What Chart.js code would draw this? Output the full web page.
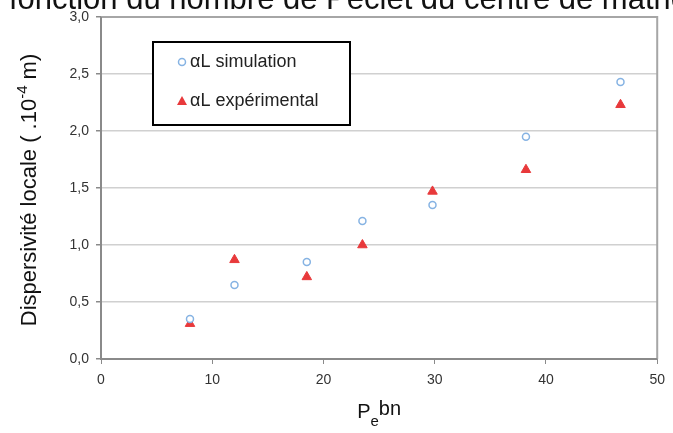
<!DOCTYPE html>
<html><head><meta charset="utf-8">
<script src="https://cdn.jsdelivr.net/npm/chart.js@4"></script>
<style>html,body{margin:0;padding:0;background:#fff;}#wrap{width:673px;height:433px;}</style>
</head><body><div id="wrap"><canvas id="c" width="673" height="433"></canvas></div>
<script>
const pecletX = [8, 12, 18.5, 23.5, 29.8, 38.2, 46.7];
const simulation = [0.35, 0.65, 0.85, 1.21, 1.35, 1.95, 2.43];
const experimental = [0.31, 0.87, 0.72, 1.00, 1.47, 1.66, 2.23];
const yTicks = [0, 0.5, 1, 1.5, 2, 2.5, 3];
const xTicks = [0, 10, 20, 30, 40, 50];
const seriesNames = ['\u03B1L simulation', '\u03B1L exp\u00E9rimental'];
const titleText = 'fonction du nombre de Peclet du centre de matrice';

const FONT = '"Liberation Sans", Arial, sans-serif';
const simColor = '#86b3e3';
const expColor = '#e8393b';

const overlay = {
  id: 'overlay',
  afterDraw(chart) {
    const ctx = chart.ctx, a = chart.chartArea;
    ctx.save();
    ctx.strokeStyle = '#a6a6a6'; ctx.lineWidth = 2;
    ctx.beginPath(); ctx.moveTo(a.left, a.top); ctx.lineTo(a.right, a.top); ctx.lineTo(a.right, a.bottom); ctx.stroke();
    ctx.strokeStyle = '#8a8a8a'; ctx.lineWidth = 2;
    ctx.beginPath(); ctx.moveTo(a.left, a.top); ctx.lineTo(a.left, a.bottom); ctx.lineTo(a.right, a.bottom); ctx.stroke();
    // title (partially cropped)
    ctx.fillStyle = '#111'; ctx.font = '31px ' + FONT; ctx.textBaseline = 'alphabetic'; ctx.textAlign = 'left';
    ctx.fillText(titleText, 9, 9);
    // y title
    ctx.save();
    ctx.translate(36, 190); ctx.rotate(-Math.PI/2);
    ctx.fillStyle = '#111';
    const p1 = 'Dispersivit\u00E9 locale ( .10', sup = '-4', p2 = ' m)';
    ctx.font = '22px ' + FONT; const w1 = ctx.measureText(p1).width, w3 = ctx.measureText(p2).width;
    ctx.font = '15px ' + FONT; const w2 = ctx.measureText(sup).width;
    let x0 = -(w1 + w2 + w3)/2;
    ctx.font = '22px ' + FONT; ctx.fillText(p1, x0, 0);
    ctx.font = '15px ' + FONT; ctx.fillText(sup, x0 + w1, -9);
    ctx.font = '22px ' + FONT; ctx.fillText(p2, x0 + w1 + w2, 0);
    ctx.restore();
    // x title Pebn
    ctx.font = '20px ' + FONT; ctx.fillStyle = '#111';
    const wP = ctx.measureText('P').width;
    ctx.font = '15px ' + FONT; const wE = ctx.measureText('e').width;
    ctx.font = '20px ' + FONT; const wB = ctx.measureText('bn').width;
    let xs = (a.left + a.right)/2 - (wP + wE + wB)/2;
    ctx.fillText('P', xs, 418);
    ctx.font = '15px ' + FONT; ctx.fillText('e', xs + wP, 426);
    ctx.font = '20px ' + FONT; ctx.fillText('bn', xs + wP + wE, 415);
    // legend
    const lx = 153, ly = 42, lw = 197, lh = 83;
    ctx.fillStyle = '#fff'; ctx.fillRect(lx, ly, lw, lh);
    ctx.strokeStyle = '#000'; ctx.lineWidth = 2; ctx.strokeRect(lx, ly, lw, lh);
    ctx.font = '18px ' + FONT; ctx.fillStyle = '#222'; ctx.textBaseline = 'middle';
    ctx.beginPath(); ctx.arc(182, 62, 3.5, 0, Math.PI*2); ctx.fillStyle = '#fff'; ctx.fill();
    ctx.strokeStyle = simColor; ctx.lineWidth = 1.5; ctx.stroke();
    ctx.fillStyle = '#222'; ctx.fillText(seriesNames[0], 190, 62);
    ctx.beginPath(); ctx.moveTo(182, 96); ctx.lineTo(187, 105); ctx.lineTo(177, 105); ctx.closePath();
    ctx.fillStyle = expColor; ctx.fill();
    ctx.fillStyle = '#222'; ctx.fillText(seriesNames[1], 190, 101);
    ctx.restore();
  }
};

const fmt = v => Number(v).toFixed(1).replace('.', ',');

new Chart(document.getElementById('c'), {
  type: 'scatter',
  data: {
    datasets: [
      { label: seriesNames[0], data: pecletX.map((x, i) => ({x, y: simulation[i]})),
        pointStyle: 'circle', pointRadius: 3.5, pointBorderWidth: 1.5,
        borderColor: simColor, backgroundColor: '#fff', pointBorderColor: simColor, pointBackgroundColor: '#fff' },
      { label: seriesNames[1], data: pecletX.map((x, i) => ({x, y: experimental[i]})),
        pointStyle: 'triangle', pointRadius: 5.5, pointBorderWidth: 1,
        borderColor: expColor, backgroundColor: expColor, pointBorderColor: expColor, pointBackgroundColor: expColor }
    ]
  },
  options: {
    responsive: false, animation: false, devicePixelRatio: 1,
    layout: { padding: { left: 0, top: 17, right: 14, bottom: 0 } },
    plugins: { legend: { display: false }, tooltip: { enabled: false }, title: { display: false } },
    scales: {
      x: {
        type: 'linear', min: 0, max: 50,
        afterBuildTicks: s => { s.ticks = xTicks.map(v => ({value: v})); },
        afterFit: s => { s.height = 74; },
        grid: { drawOnChartArea: false, drawTicks: true, tickLength: 5, tickColor: '#8a8a8a', lineWidth: 1 },
        border: { display: false },
        ticks: { color: '#333', font: { family: FONT, size: 14 }, padding: 8, maxRotation: 0 }
      },
      y: {
        type: 'linear', min: 0, max: 3,
        afterBuildTicks: s => { s.ticks = yTicks.map(v => ({value: v})); },
        afterFit: s => { s.width = 101; },
        grid: { color: '#d0d0d0', lineWidth: 1.5, drawTicks: true, tickLength: 5, tickColor: '#8a8a8a' },
        border: { display: false },
        ticks: { color: '#333', font: { family: FONT, size: 14 }, padding: 7, callback: v => fmt(v) }
      }
    }
  },
  plugins: [overlay]
});
</script>
</body></html>
